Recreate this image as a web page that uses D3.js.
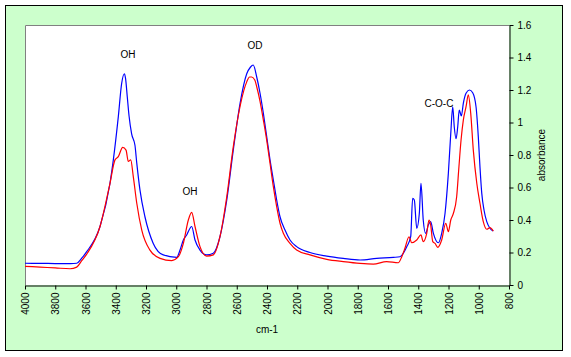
<!DOCTYPE html>
<html><head><meta charset="utf-8">
<script src="https://cdn.jsdelivr.net/npm/d3@7/dist/d3.min.js"></script>
<style>
body{margin:0;background:#fff}
text{font-family:"Liberation Sans",Arial,sans-serif;font-size:10px;fill:#000}
</style>
</head><body>
<svg id="chart" width="571" height="357"></svg>
<script>
// ---- data ----
const xTickValues = [4000,3800,3600,3400,3200,3000,2800,2600,2400,2200,2000,1800,1600,1400,1200,1000,800];
const yTickValues = [0,0.2,0.4,0.6,0.8,1,1.2,1.4,1.6];
const xTitle = "cm-1";
const yTitle = "absorbance";

const blueWn  = [4000,3900,3800,3700,3658,3625,3592,3504,3438,3416,3383,3361,3343,3335,3324,3312,3295,3273,3261,3240,3207,3152,3086,2997,2975,2953,2931,2898,2876,2843,2799,2755,2711,2666,2623,2578,2534,2510,2491,2468,2446,2424,2402,2380,2358,2336,2314,2281,2248,2204,2116,2005,1896,1785,1675,1565,1521,1476,1450,1437,1426,1410,1393,1382,1367,1351,1333,1318,1300,1267,1245,1223,1201,1185,1172,1162,1150,1139,1129,1115,1102,1084,1062,1040,1018,1003,992,980,965,947,926,904];
const blueAbs = [0.134,0.133,0.132,0.131,0.134,0.165,0.205,0.36,0.626,0.77,1.036,1.24,1.30,1.27,1.16,1.04,0.93,0.86,0.75,0.585,0.42,0.256,0.185,0.17,0.215,0.277,0.308,0.36,0.277,0.215,0.185,0.195,0.297,0.523,0.83,1.118,1.30,1.34,1.354,1.28,1.18,1.056,0.913,0.77,0.646,0.523,0.42,0.338,0.277,0.236,0.20,0.178,0.164,0.154,0.164,0.17,0.174,0.236,0.297,0.533,0.523,0.349,0.44,0.626,0.40,0.318,0.37,0.39,0.318,0.26,0.318,0.44,0.687,0.933,1.097,0.974,0.90,0.974,1.077,1.04,1.118,1.18,1.20,1.183,1.097,0.913,0.728,0.564,0.46,0.39,0.349,0.332];

const redWn  = [4000,3900,3800,3702,3658,3625,3592,3504,3438,3405,3383,3354,3332,3317,3301,3284,3261,3228,3174,3107,3030,2986,2953,2920,2898,2876,2843,2799,2755,2711,2666,2623,2578,2534,2515,2501,2480,2468,2446,2424,2402,2380,2358,2336,2314,2292,2248,2204,2116,2005,1896,1785,1697,1609,1532,1509,1488,1461,1443,1410,1382,1367,1344,1329,1318,1304,1289,1271,1245,1218,1201,1185,1168,1146,1131,1117,1102,1084,1069,1053,1036,1013,992,970,947,926,904];
const redAbs = [0.115,0.11,0.105,0.10,0.11,0.15,0.19,0.36,0.626,0.77,0.79,0.847,0.83,0.76,0.77,0.667,0.503,0.338,0.215,0.164,0.15,0.174,0.256,0.40,0.447,0.36,0.236,0.178,0.185,0.297,0.543,0.85,1.10,1.25,1.28,1.28,1.26,1.22,1.13,1.015,0.892,0.749,0.605,0.482,0.38,0.318,0.256,0.215,0.185,0.158,0.144,0.133,0.129,0.144,0.137,0.174,0.226,0.297,0.26,0.277,0.308,0.267,0.318,0.40,0.37,0.267,0.256,0.232,0.277,0.38,0.328,0.40,0.44,0.543,0.728,0.892,1.015,1.097,1.17,1.056,0.83,0.626,0.503,0.39,0.343,0.353,0.332];

const peakNames = ["OH","OH","OD","C-O-C"];
const peakWn    = [3319,2909,2479,1263];
const peakAbs   = [1.397,0.554,1.452,1.097];

// ---- chart ----
const svg = d3.select("#chart");
const W = 571, H = 357;
const plot = {left:25, top:25, right:509, bottom:285};

svg.append("rect").attr("x",0).attr("y",0).attr("width",W).attr("height",H).attr("fill","#fff");
svg.append("rect").attr("x",5.5).attr("y",5.5).attr("width",557).attr("height",345)
  .attr("fill","#CCFFCC").attr("stroke","#000").attr("stroke-width",1);
svg.append("rect").attr("x",plot.left).attr("y",plot.top)
  .attr("width",plot.right-plot.left).attr("height",plot.bottom-plot.top).attr("fill","#fff");
svg.append("path").attr("d",`M${plot.left+0.5},${plot.bottom}V${plot.top+0.5}H${plot.right}`)
  .attr("fill","none").attr("stroke","#808080").attr("stroke-width",1);

const x = d3.scaleLinear().domain([4000,800]).range([plot.left, plot.right]);
const y = d3.scaleLinear().domain([0,1.6]).range([plot.bottom, plot.top]);

const line = d3.line().x(d=>x(d[0])).y(d=>y(d[1])).curve(d3.curveMonotoneX);
const blue = blueWn.map((w,i)=>[w,blueAbs[i]]);
const red = redWn.map((w,i)=>[w,redAbs[i]]);

svg.append("path").datum(blue).attr("d",line).attr("fill","none").attr("stroke","#0000FF").attr("stroke-width",1.2);
svg.append("path").datum(red).attr("d",line).attr("fill","none").attr("stroke","#FF0000").attr("stroke-width",1.2);

// x axis
const xAxis = svg.append("g").attr("transform",`translate(0,${plot.bottom+0.5})`)
  .call(d3.axisBottom(x).tickValues(xTickValues).tickSize(4).tickSizeOuter(0).tickFormat(d3.format("d")));
xAxis.select(".domain").attr("stroke","#000");
xAxis.selectAll(".tick line").attr("stroke","#000");
xAxis.selectAll(".tick text")
  .attr("font-size",10).attr("font-family",'"Liberation Sans",Arial,sans-serif')
  .attr("transform","rotate(-90)").attr("text-anchor","end")
  .attr("x",-7).attr("y",0).attr("dy","0.35em");

// y axis (right)
const yAxis = svg.append("g").attr("transform",`translate(${plot.right+0.5},0)`)
  .call(d3.axisRight(y).tickValues(yTickValues).tickSize(4).tickSizeOuter(0).tickFormat(d=>String(+d.toFixed(1))));
yAxis.select(".domain").attr("stroke","#000");
yAxis.selectAll(".tick line").attr("stroke","#000");
yAxis.selectAll(".tick text").attr("font-size",10).attr("font-family",'"Liberation Sans",Arial,sans-serif').attr("x",8);

// titles
svg.append("text").attr("x",(plot.left+plot.right)/2).attr("y",333).attr("text-anchor","middle").text(xTitle);
svg.append("text").attr("transform",`translate(545,${(plot.top+plot.bottom)/2}) rotate(-90)`)
  .attr("text-anchor","middle").text(yTitle);

// peak annotations
svg.selectAll(".peak").data(peakNames).enter().append("text")
  .attr("class","peak").attr("text-anchor","middle")
  .attr("x",(d,i)=>x(peakWn[i])).attr("y",(d,i)=>y(peakAbs[i])).text(d=>d);
</script>
</body></html>
